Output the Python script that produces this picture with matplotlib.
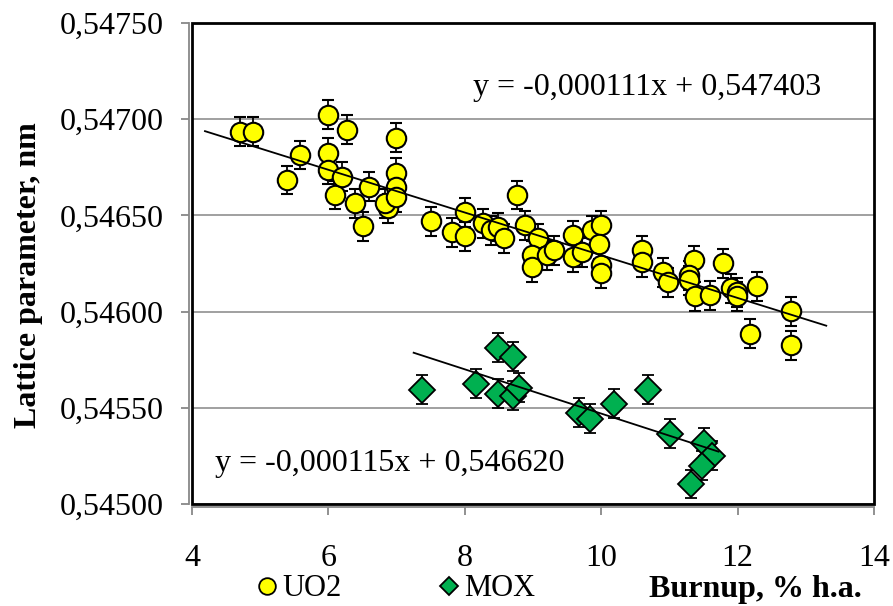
import matplotlib
matplotlib.use("Agg")
import matplotlib.pyplot as plt
import matplotlib.ticker as ticker
from matplotlib.lines import Line2D
from matplotlib.patches import Rectangle
import numpy as np

plt.rcParams["font.family"] = ["Liberation Serif", "DejaVu Serif"]

# UO2 samples: burnup (% h.a.) and lattice parameter (nm)
uo2_x = [4.70, 4.89, 5.39, 5.58, 5.99, 5.99, 5.99, 6.09, 6.20, 6.28,
         6.39, 6.50, 6.59, 6.87, 6.83, 6.99, 6.99, 6.99, 6.99, 7.51,
         7.81, 8.00, 8.00, 8.26, 8.38, 8.48, 8.58, 8.77, 8.89, 9.08,
         8.99, 8.99, 9.21, 9.31, 9.58, 9.58, 9.72, 9.86, 10.00, 9.97,
         9.99, 9.99, 10.60, 10.60, 10.90, 10.98, 11.36, 11.29, 11.29, 11.38,
         11.60, 11.79, 11.91, 11.99, 11.99, 12.29, 12.18, 12.78, 12.78]
uo2_y = [0.546934, 0.546934, 0.546684, 0.546814, 0.547023, 0.546825, 0.546736, 0.546606, 0.546700, 0.546945,
         0.546564, 0.546444, 0.546648, 0.546538, 0.546564, 0.546903, 0.546721, 0.546648, 0.546595, 0.546470,
         0.546413, 0.546517, 0.546392, 0.546460, 0.546423, 0.546440, 0.546382, 0.546606, 0.546449, 0.546382,
         0.546293, 0.546230, 0.546293, 0.546319, 0.546397, 0.546283, 0.546309, 0.546423, 0.546449, 0.546350,
         0.546241, 0.546200, 0.546319, 0.546256, 0.546204, 0.546152, 0.546267, 0.546189, 0.546163, 0.546079,
         0.546085, 0.546251, 0.546121, 0.546100, 0.546079, 0.546131, 0.545886, 0.546001, 0.545824]

# MOX samples
mox_x = [7.37, 8.17, 8.48, 8.70, 8.48, 8.70, 8.79, 9.67, 9.83, 10.19,
         10.69, 11.01, 11.50, 11.63, 11.48, 11.31]
mox_y = [0.545594, 0.545626, 0.545813, 0.545766, 0.545573, 0.545563, 0.545605, 0.545474, 0.545443, 0.545521,
         0.545594, 0.545365, 0.545318, 0.545250, 0.545198, 0.545104]

err = 0.000075

# linear fits (coefficients as printed on the chart)
uo2_fit = (-0.000111, 0.547403)
mox_fit = (-0.000115, 0.546620)
uo2_fit_range = [4.19, 13.3]
mox_fit_range = [7.25, 11.72]

yticks = [0.5450, 0.5455, 0.5460, 0.5465, 0.5470, 0.5475]
xticks = [4, 6, 8, 10, 12, 14]

fig = plt.figure(figsize=(8.93, 6.06), dpi=100)
ax = fig.add_axes([192 / 893, 1 - 504 / 606, 682 / 893, 481 / 606])

ax.errorbar(uo2_x, uo2_y, yerr=err, fmt="o", ms=14, mfc="#FFFF00", mec="black",
            mew=1.5, ecolor="black", elinewidth=1.3, capsize=4.5, capthick=1.3, zorder=3)
ax.errorbar(mox_x, mox_y, yerr=err, fmt="D", ms=13, mfc="#00B050", mec="black",
            mew=1.3, ecolor="black", elinewidth=1.3, capsize=4.5, capthick=1.3, zorder=3)

for (k, b), xr in [(uo2_fit, uo2_fit_range), (mox_fit, mox_fit_range)]:
    xr = np.array(xr)
    ax.plot(xr, k * xr + b, color="black", lw=1.3, zorder=4)

ax.set_xlim(4, 14)
ax.set_ylim(0.5450, 0.5475)
ax.set_xticks(xticks)
ax.set_yticks(yticks)
ax.yaxis.set_major_formatter(ticker.FuncFormatter(lambda v, p: f"{v:.5f}".replace(".", ",")))
ax.grid(axis="y", color="#999999", lw=1.3, zorder=0)
ax.tick_params(axis="both", labelsize=23, colors="#888888", labelcolor="black",
               direction="out", length=6, width=1.3)
ax.tick_params(axis="x", pad=21)
ax.tick_params(axis="y", pad=12)

for side in ["top", "right"]:
    ax.spines[side].set_visible(False)
for side in ["left", "bottom"]:
    ax.spines[side].set_color("#888888")
    ax.spines[side].set_linewidth(1.3)
    ax.spines[side].set_position(("outward", 2))
ax.add_patch(Rectangle((0, 0), 1, 1, transform=ax.transAxes, fill=False,
                       ec="black", lw=2, zorder=5, clip_on=False))

ax.set_ylabel("Lattice parameter, nm", fontsize=23, fontweight="bold")
ax.yaxis.set_label_coords(-0.218, 0.475)

ax.text(0.412, 0.865, "y = -0,000111x + 0,547403", transform=ax.transAxes,
        fontsize=23, va="center", ha="left")
ax.text(0.034, 0.085, "y = -0,000115x + 0,546620", transform=ax.transAxes,
        fontsize=23, va="center", ha="left")

handles = [
    Line2D([], [], ls="none", marker="o", ms=12, mfc="#FFFF00", mec="black", mew=1.3),
    Line2D([], [], ls="none", marker="D", ms=9, mfc="#00B050", mec="black", mew=1.3),
]
fig.legend(handles, ["UO2", "MOX"], loc="center left", bbox_to_anchor=(258 / 893, 1 - 589 / 606),
           ncol=2, frameon=False, fontsize=22, handlelength=0.6, handletextpad=0.2,
           columnspacing=3.2, borderpad=0, borderaxespad=0)
fig.text(755 / 893, 1 - 589 / 606, "Burnup, % h.a.", fontsize=23, fontweight="bold",
         ha="center", va="center")

fig.savefig("out.png", dpi=100)
